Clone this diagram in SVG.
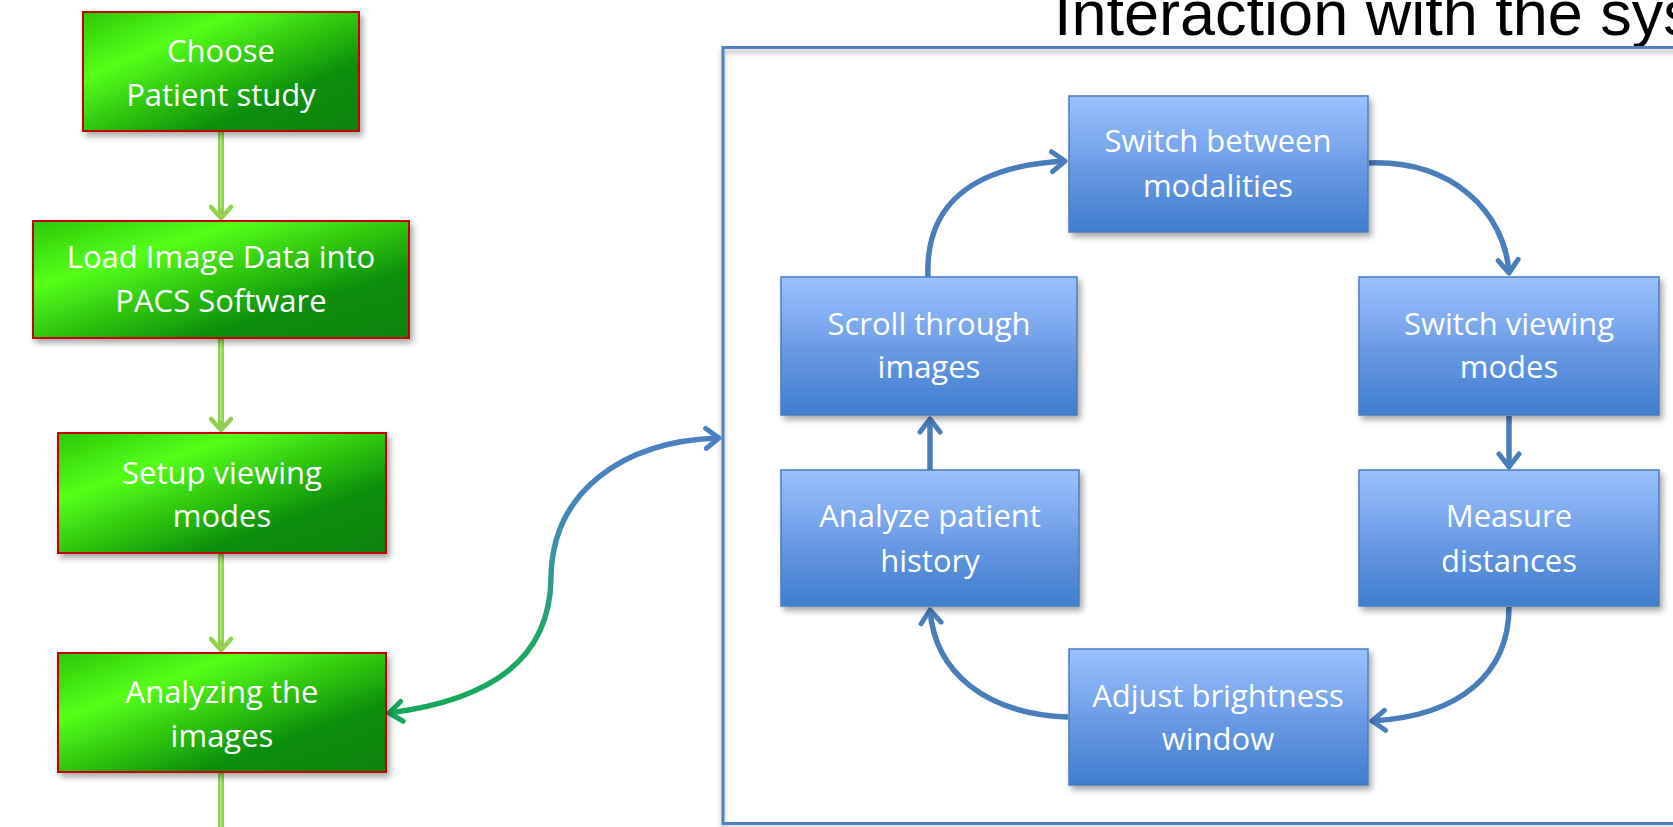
<svg xmlns="http://www.w3.org/2000/svg" width="1673" height="827" viewBox="0 0 1673 827">
  <defs>
    <style>
      .gbox { stroke: #c40000; stroke-width: 2; fill: url(#greenFill); filter: url(#shadow); }
      .bbox { stroke: #4a7ebb; stroke-width: 1.5; fill: url(#blueFill); filter: url(#shadow); }
      .label { font-family: "Open Sans", "Noto Sans", sans-serif; font-size: 31px; fill: #ffffff; text-anchor: middle; }
      .flow { fill: none; stroke: #92d050; stroke-width: 6; }
      .flowCore { fill: none; stroke: #c8ecab; stroke-width: 1.2; }
      .cycle { fill: none; stroke: #4a7ebb; stroke-width: 5.5; }
      .title { font-family: "Liberation Sans", Arial, sans-serif; font-size: 63px; fill: #000000; }
    </style>
    <linearGradient id="greenFill" x1="0" y1="0" x2="1" y2="1">
      <stop offset="0" stop-color="#2cc80c"/>
      <stop offset="0.28" stop-color="#55ff16"/>
      <stop offset="0.72" stop-color="#0b8e0b"/>
      <stop offset="1" stop-color="#078407"/>
    </linearGradient>
    <linearGradient id="blueFill" x1="0" y1="0" x2="0" y2="1">
      <stop offset="0" stop-color="#9cc2ff"/>
      <stop offset="0.5" stop-color="#6d9ce6"/>
      <stop offset="1" stop-color="#3f7dce"/>
    </linearGradient>
    <linearGradient id="linkFill" gradientUnits="userSpaceOnUse" x1="386" y1="713" x2="722" y2="438">
      <stop offset="0" stop-color="#16a85a"/>
      <stop offset="0.38" stop-color="#1ea866"/>
      <stop offset="0.55" stop-color="#3d90a8"/>
      <stop offset="0.7" stop-color="#4a82c0"/>
      <stop offset="1" stop-color="#4a80c0"/>
    </linearGradient>
    <filter id="shadow" x="-10%" y="-10%" width="130%" height="140%">
      <feDropShadow dx="3" dy="4" stdDeviation="3" flood-color="#000000" flood-opacity="0.35"/>
    </filter>
    <filter id="frameShadow" x="-5%" y="-5%" width="110%" height="110%">
      <feDropShadow dx="0" dy="4" stdDeviation="2.5" flood-color="#000000" flood-opacity="0.3"/>
    </filter>
    <marker id="flowHead" markerUnits="userSpaceOnUse" viewBox="-14 -12 18 24" markerWidth="18" markerHeight="24" refX="0" refY="0" orient="auto">
      <path d="M -11,-10 L 0,0 L -11,10" fill="none" stroke="#92d050" stroke-width="4.5" stroke-linejoin="round" stroke-linecap="round"/>
    </marker>
    <marker id="blueHead" markerUnits="userSpaceOnUse" viewBox="-17 -13 21 26" markerWidth="21" markerHeight="26" refX="0" refY="0" orient="auto">
      <path d="M -13,-10 L 0,0 L -13,10" fill="none" stroke="#4a7ebb" stroke-width="5" stroke-linejoin="round" stroke-linecap="round"/>
    </marker>
    <marker id="linkHeadBlue" markerUnits="userSpaceOnUse" viewBox="-17 -13 21 26" markerWidth="21" markerHeight="26" refX="0" refY="0" orient="auto">
      <path d="M -13,-10 L 0,0 L -13,10" fill="none" stroke="#4a80c0" stroke-width="5" stroke-linejoin="round" stroke-linecap="round"/>
    </marker>
    <marker id="linkHeadGreen" markerUnits="userSpaceOnUse" viewBox="-17 -13 21 26" markerWidth="21" markerHeight="26" refX="0" refY="0" orient="auto-start-reverse">
      <path d="M -13,-10 L 0,0 L -13,10" fill="none" stroke="#16a85a" stroke-width="5" stroke-linejoin="round" stroke-linecap="round"/>
    </marker>
  </defs>

  <rect width="1673" height="827" fill="#ffffff"/>

  <!-- title, running off the top and right edges -->
  <text class="title" x="1054" y="35">Interaction with the system</text>

  <!-- frame around the interaction cycle -->
  <rect id="frame" x="723" y="47.5" width="1000" height="776" fill="none" stroke="#4f81bd" stroke-width="3" filter="url(#frameShadow)"/>

  <!-- connectors -->
  <g id="connectors">
    <!-- workflow column -->
    <path class="flow" d="M 221,131 V 218" marker-end="url(#flowHead)"/>
    <path class="flowCore" d="M 221,133 V 208"/>
    <path class="flow" d="M 221,339 V 430" marker-end="url(#flowHead)"/>
    <path class="flowCore" d="M 221,341 V 420"/>
    <path class="flow" d="M 221,554 V 650" marker-end="url(#flowHead)"/>
    <path class="flowCore" d="M 221,556 V 640"/>
    <path class="flow" d="M 221,773 V 827"/>
    <path class="flowCore" d="M 221,775 V 827"/>

    <!-- link between the analysis step and the cycle -->
    <path d="M 389,713 C 490,700 550,660 551,578 C 552,492 622,441 719,438" fill="none" stroke="url(#linkFill)" stroke-width="5.5" marker-start="url(#linkHeadGreen)" marker-end="url(#linkHeadBlue)"/>

    <!-- interaction cycle -->
    <path class="cycle" d="M 928,277 C 925,205 972,166 1065,161" marker-end="url(#blueHead)"/>
    <path class="cycle" d="M 1369,163 C 1452,160 1505,212 1509,273" marker-end="url(#blueHead)"/>
    <path class="cycle" d="M 1509,416 V 467" marker-end="url(#blueHead)"/>
    <path class="cycle" d="M 1509,607 C 1509,672 1462,716 1372,721" marker-end="url(#blueHead)"/>
    <path class="cycle" d="M 1068,717 C 985,714 935,672 930,610" marker-end="url(#blueHead)"/>
    <path class="cycle" d="M 930,470 V 419" marker-end="url(#blueHead)"/>
  </g>

  <!-- workflow steps -->
  <g id="choose-study">
    <rect class="gbox" x="83" y="12" width="276" height="119"/>
    <text class="label" x="221" y="62">Choose</text>
    <text class="label" x="221" y="106">Patient study</text>
  </g>
  <g id="load-data">
    <rect class="gbox" x="33" y="221" width="376" height="117"/>
    <text class="label" x="221" y="268">Load Image Data into</text>
    <text class="label" x="221" y="312">PACS Software</text>
  </g>
  <g id="setup-modes">
    <rect class="gbox" x="58" y="433" width="328" height="120"/>
    <text class="label" x="222" y="484">Setup viewing</text>
    <text class="label" x="222" y="527">modes</text>
  </g>
  <g id="analyzing-images">
    <rect class="gbox" x="58" y="653" width="328" height="119"/>
    <text class="label" x="222" y="703">Analyzing the</text>
    <text class="label" x="222" y="747">images</text>
  </g>

  <!-- interaction cycle steps -->
  <g id="switch-modalities">
    <rect class="bbox" x="1069" y="96" width="299" height="136"/>
    <text class="label" x="1218" y="152">Switch between</text>
    <text class="label" x="1218" y="197">modalities</text>
  </g>
  <g id="switch-viewing-modes">
    <rect class="bbox" x="1359" y="277" width="300" height="138"/>
    <text class="label" x="1509" y="335">Switch viewing</text>
    <text class="label" x="1509" y="378">modes</text>
  </g>
  <g id="measure-distances">
    <rect class="bbox" x="1359" y="470" width="300" height="136"/>
    <text class="label" x="1509" y="527">Measure</text>
    <text class="label" x="1509" y="572">distances</text>
  </g>
  <g id="adjust-brightness">
    <rect class="bbox" x="1069" y="649" width="299" height="136"/>
    <text class="label" x="1218" y="707">Adjust brightness</text>
    <text class="label" x="1218" y="750">window</text>
  </g>
  <g id="analyze-history">
    <rect class="bbox" x="781" y="470" width="298" height="136"/>
    <text class="label" x="930" y="527">Analyze patient</text>
    <text class="label" x="930" y="572">history</text>
  </g>
  <g id="scroll-images">
    <rect class="bbox" x="781" y="277" width="296" height="138"/>
    <text class="label" x="929" y="335">Scroll through</text>
    <text class="label" x="929" y="378">images</text>
  </g>
</svg>
